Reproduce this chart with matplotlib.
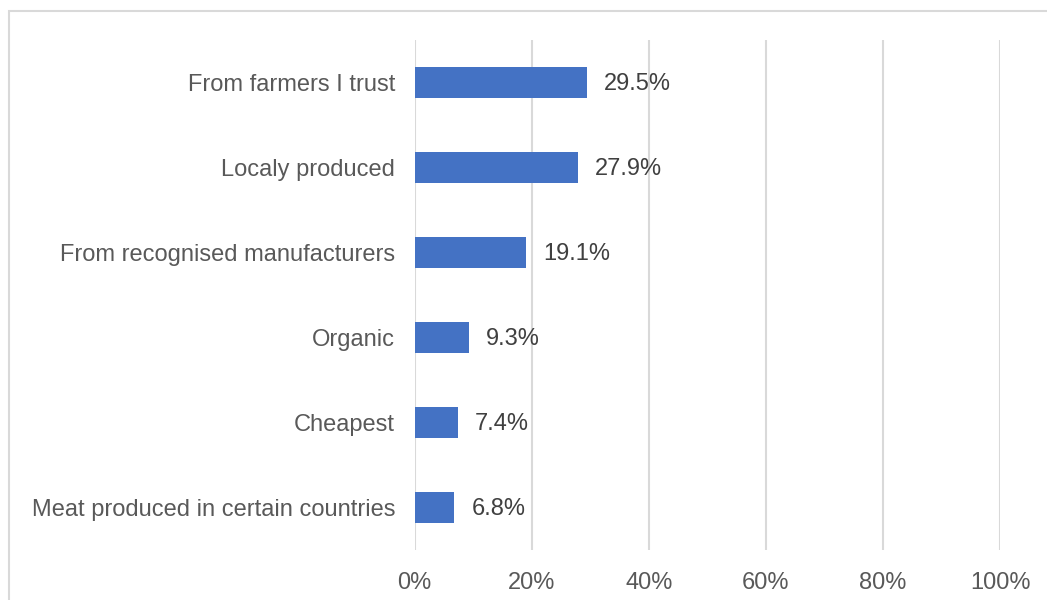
import matplotlib
matplotlib.use("Agg")
import matplotlib.pyplot as plt
from matplotlib.patches import Rectangle

# survey answers, top to bottom
categories = [
    "From farmers I trust",
    "Localy produced",
    "From recognised manufacturers",
    "Organic",
    "Cheapest",
    "Meat produced in certain countries",
]
shares = [29.5, 27.9, 19.1, 9.3, 7.4, 6.8]
ticks = [0, 20, 40, 60, 80, 100]
tick_labels = [f"{t}%" for t in ticks]

plt.rcParams["font.family"] = ["Liberation Sans", "DejaVu Sans"]

W, H = 1047, 600
fig = plt.figure(figsize=(W / 100, H / 100), dpi=100)
ax = fig.add_axes([414.5 / W, 50 / H, (1000 - 414.5) / W, (550 - 39.5) / H])

bar_color = "#4472C4"
grid_color = "#D9D9D9"

y = list(range(len(categories)))
bars = ax.barh(y, shares, height=0.365, color=bar_color, zorder=3)
ax.set_ylim(len(categories) - 0.5, -0.5)
ax.set_xlim(0, 100)

for rect, val in zip(bars, shares):
    ax.annotate(
        f"{val:.1f}%",
        xy=(rect.get_width(), rect.get_y() + rect.get_height() / 2),
        xytext=(17, -2),
        textcoords="offset pixels",
        ha="left",
        va="center",
        fontsize=17,
        color="#404040",
    )

ax.set_yticks(y)
ax.set_yticklabels(categories, fontsize=17, color="#595959")
ax.set_xticks(ticks)
ax.set_xticklabels(tick_labels, fontsize=17, color="#595959")
ax.tick_params(axis="both", length=0)
ax.tick_params(axis="y", pad=14)
ax.tick_params(axis="x", pad=16)

ax.grid(True, axis="x", color=grid_color, linewidth=1.5, zorder=0)
for side in ["top", "right", "bottom", "left"]:
    ax.spines[side].set_visible(False)

# chart frame, opened past the right and bottom edges
fig.patches.append(
    Rectangle(
        (8.5 / W, -0.05),
        1.1,
        (600 - 10.5) / H + 0.05,
        transform=fig.transFigure,
        fill=False,
        edgecolor=grid_color,
        linewidth=1.5,
    )
)

fig.savefig("out.png", dpi=100)
